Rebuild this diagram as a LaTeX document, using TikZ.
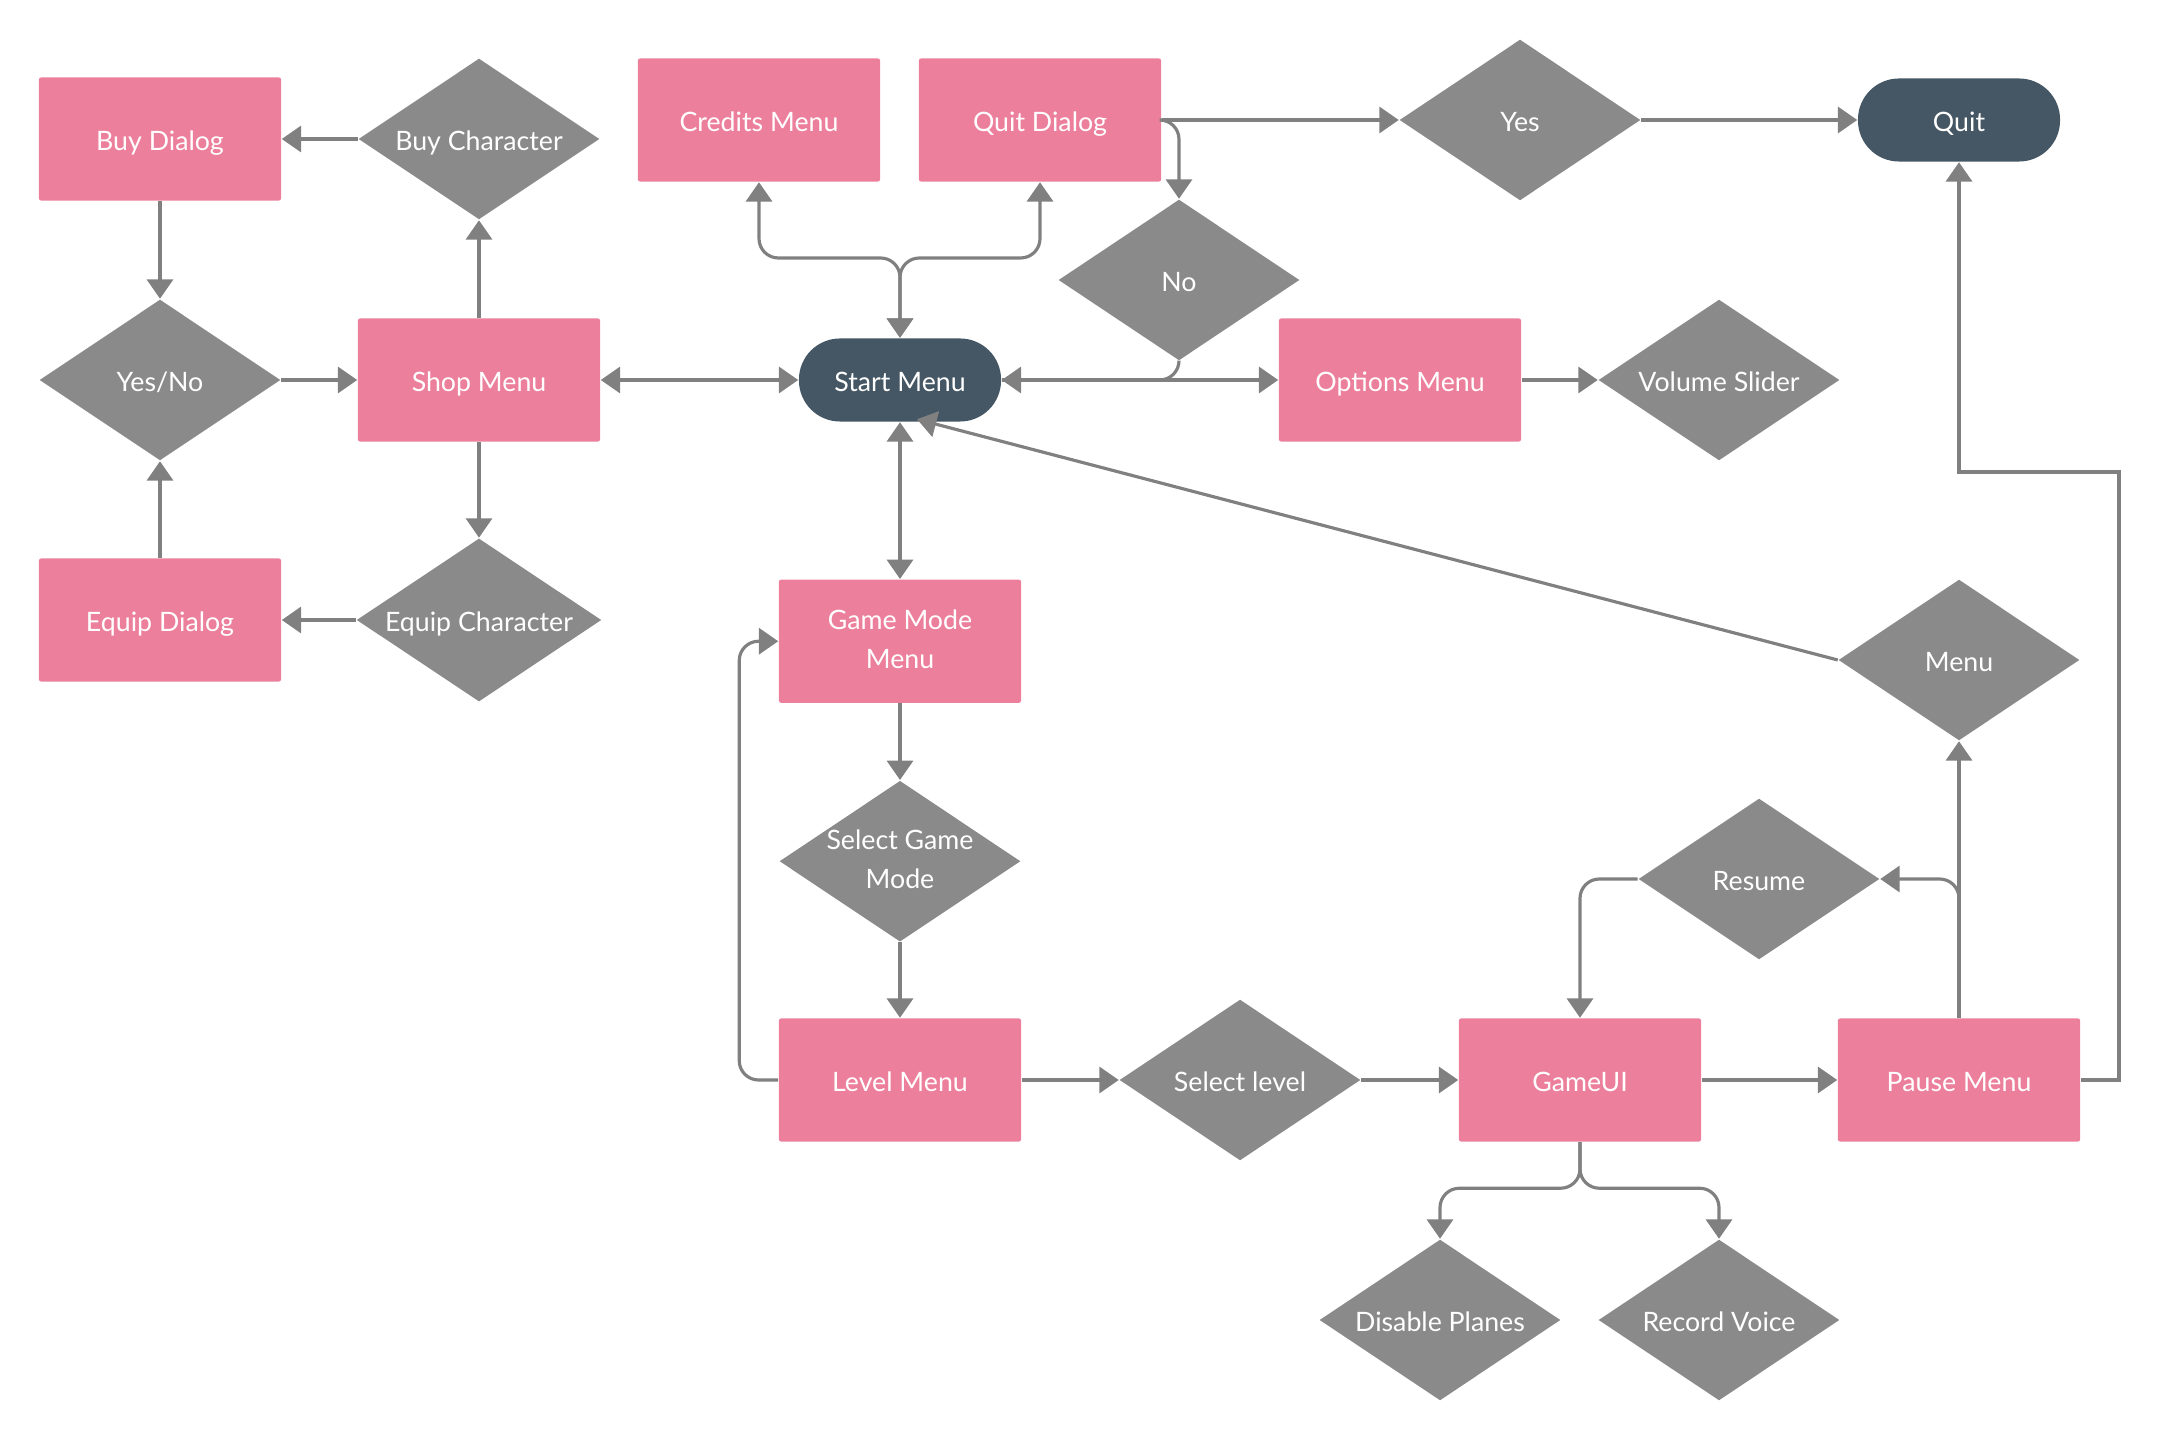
\documentclass[tikz,border=0pt]{standalone}
\usepackage{fontspec}
\setmainfont{Lato}
\usetikzlibrary{arrows.meta,shapes.geometric}
\definecolor{pinkbox}{HTML}{EC7F9B}
\definecolor{graydia}{HTML}{8A8A8A}
\definecolor{darkterm}{HTML}{455764}
\definecolor{linegray}{HTML}{808080}
\begin{document}
\begin{tikzpicture}[x=0.01cm,y=-0.01cm,
  base/.style={text=white, font=\fontsize{7.6}{11}\selectfont, align=center, inner sep=0pt, text height=0.88em, text depth=0.2em},
  twoline/.style={text height={}, text depth={}, yshift=-0.35pt},
  box/.style={base, rectangle, fill=pinkbox, minimum width=2.42cm, minimum height=1.23cm, rounded corners=0.6pt},
  dec/.style={base, diamond, fill=graydia, minimum width=2.41cm, minimum height=1.61cm, aspect=1.5},
  term/.style={base, rectangle, rounded corners=0.41cm, fill=darkterm, minimum width=2.02cm, minimum height=0.83cm},
  conn/.style={draw=linegray, line width=0.9pt, -{Triangle[length=5.5pt,width=7.4pt]}},
  both/.style={conn, {Triangle[length=5.5pt,width=7.4pt]}-{Triangle[length=5.5pt,width=7.4pt]}},
  rc/.style={rounded corners=5.5pt}
]
\useasboundingbox (0,0) rectangle (2160,1440);

% nodes
\node[box]  (bd)   at (160,139)  {Buy Dialog};
\node[dec]  (bc)   at (479,139)  {Buy Character};
\node[box]  (cred) at (759,120)  {Credits Menu};
\node[box]  (qd)   at (1040,120) {Quit Dialog};
\node[dec]  (yes)  at (1520,120) {Yes};
\node[term] (quit) at (1959,120) {Quit};
\node[dec]  (no)   at (1179,280) {No};
\node[dec]  (yn)   at (160,380)  {Yes/No};
\node[box]  (shop) at (479,380)  {Shop Menu};
\node[term] (start) at (900,380) {Start Menu};
\node[box]  (opt)  at (1400,380) {Options Menu};
\node[dec]  (vol)  at (1719,380) {Volume Slider};
\node[box]  (ed)   at (160,620)  {Equip Dialog};
\node[dec]  (ec)   at (479,620)  {Equip Character};
\node[box, twoline] (gm)   at (900,640)  {\begin{tabular}{@{}c@{}}Game Mode\\Menu\end{tabular}};
\node[dec]  (menu) at (1959,660) {Menu};
\node[dec, twoline, inner sep=-7pt] (sgm)  at (900,860)  {\begin{tabular}{@{}c@{}}Select Game\\Mode\end{tabular}};
\node[dec]  (res)  at (1759,879) {Resume};
\node[box]  (lvl)  at (900,1080) {Level Menu};
\node[dec]  (sl)   at (1240,1080) {Select level};
\node[box]  (gui)  at (1580,1080) {GameUI};
\node[box]  (pause) at (1959,1080) {Pause Menu};
\node[dec]  (dp)   at (1440,1320) {Disable Planes};
\node[dec]  (rv)   at (1719,1320) {Record Voice};

\coordinate (smtip) at ([xshift=0.17cm,yshift=0.03cm]start.south);

% shop area
\draw[conn] (bc.west) -- (bd.east);
\draw[conn] (bd.south) -- (yn.north);
\draw[conn] (yn.east) -- (shop.west);
\draw[conn] (ed.north) -- (yn.south);
\draw[conn] (ec.west) -- (ed.east);
\draw[conn] (shop.north) -- (bc.south);
\draw[conn] (shop.south) -- (ec.north);
\draw[both] (shop.east) -- (start.west);

% top
\draw[both, rc] (start.north) -- (900,258) -| (cred.south);
\draw[both, rc] (start.north) -- (900,258) -| (qd.south);
\draw[conn] (qd.east) -- (yes.west);
\draw[conn] (yes.east) -- (quit.west);
\draw[conn, rc] (qd.east) -| (no.north);
\draw[conn, rc] (no.south) |- (start.east);
\draw[conn] (start.east) -- (opt.west);
\draw[conn] (opt.east) -- (vol.west);

% game flow
\draw[both] (start.south) -- (gm.north);
\draw[conn] (gm.south) -- (sgm.north);
\draw[conn] (sgm.south) -- (lvl.north);
\draw[conn, rc] (lvl.west) -- ++(-39,0) |- (gm.west);
\draw[conn] (lvl.east) -- (sl.west);
\draw[conn] (sl.east) -- (gui.west);
\draw[conn] (gui.east) -- (pause.west);
\draw[conn, rc] (gui.south) -- ++(0,46) -| (dp.north);
\draw[conn, rc] (gui.south) -- ++(0,46) -| (rv.north);
\draw[conn] (pause.north) -- (menu.south);
\draw[conn, rc] (pause.north) |- (res.east);
\draw[conn, rc] (res.west) -| (gui.north);
\draw[conn] (menu.west) -- (smtip);
\draw[conn] (pause.east) -| (2119,472) -| (quit.south);
\end{tikzpicture}
\end{document}
